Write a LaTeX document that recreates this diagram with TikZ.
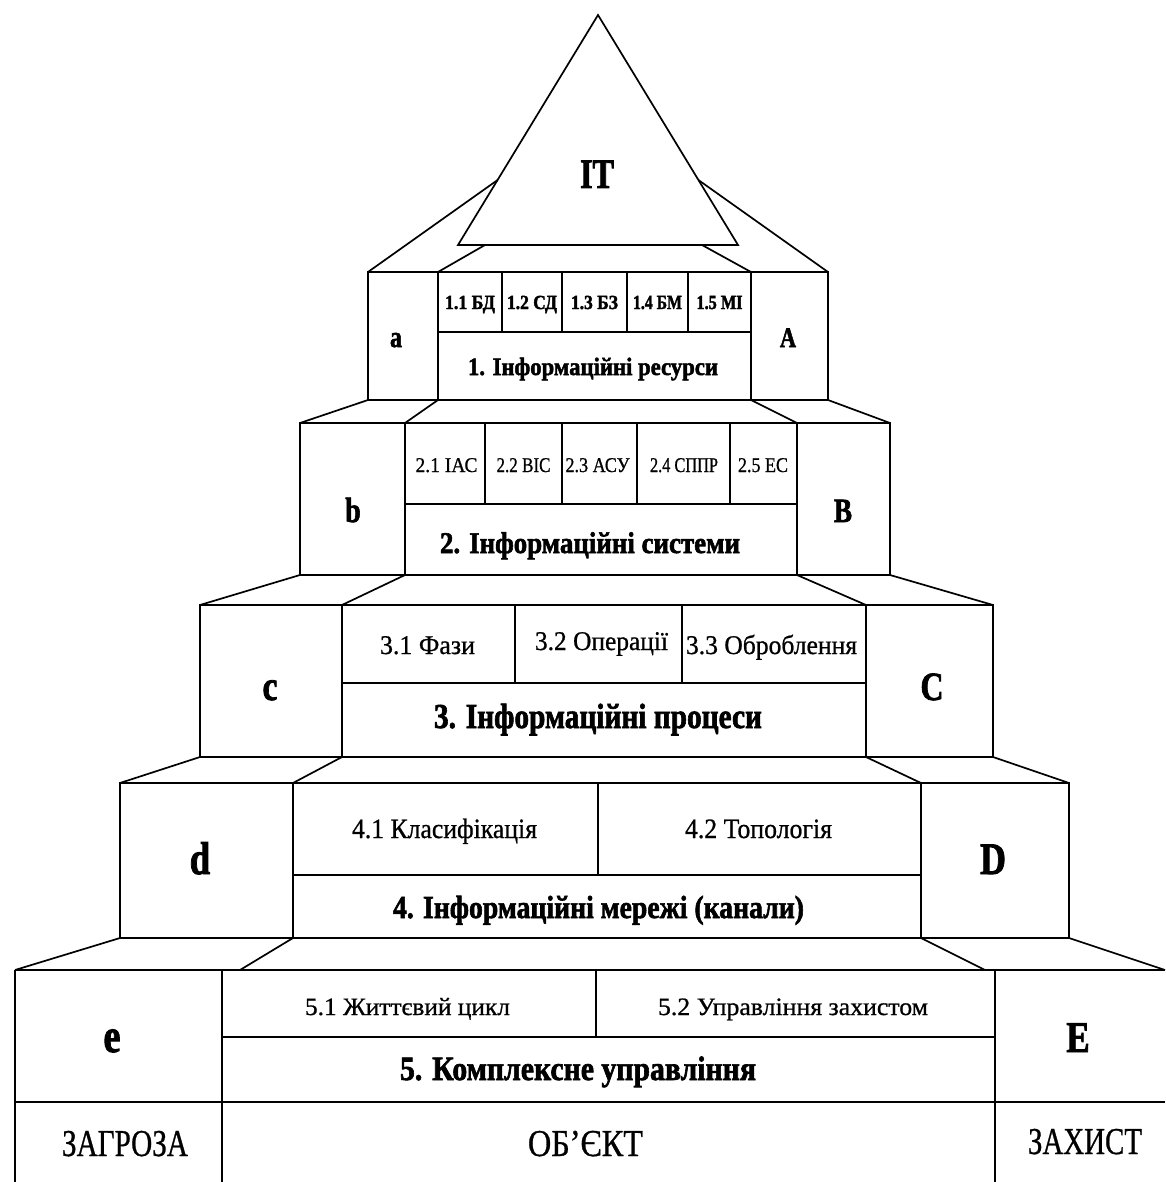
\documentclass[tikz,border=0pt]{standalone}
\usepackage{fontspec}
\setmainfont{Liberation Serif}[FakeBold=0.8, BoldFeatures={FakeBold=2}]
\usepackage{graphicx}
\newcommand\fw[2]{\resizebox{#1}{\height}{#2}}
\newcommand\cnd[1]{\scalebox{0.8}[1]{#1}}
\tikzset{
 ln/.style={line width=1.7pt},
 bln/.style={line width=2.8pt},
 txt/.style={anchor=base, inner sep=0pt, outer sep=0pt},
 fsz/.style={font=\fontsize{#1}{#1}\selectfont},
 bsz/.style={font=\fontsize{#1}{#1}\selectfont\bfseries},
}
\begin{document}
\begin{tikzpicture}[x=1pt,y=-1pt, line join=miter]
\useasboundingbox (0,0) rectangle (1165,1182);

% ---------- triangle ----------
\coordinate (apex) at (598,15);
\coordinate (tbl) at (458,245);
\coordinate (tbr) at (738,245);
\coordinate (tsl) at (497.6,180);
\coordinate (tsr) at (698.4,180);
\coordinate (til) at (485,245);
\coordinate (tir) at (702,245);
\draw[ln] (apex) -- (tbl) -- (tbr) -- cycle;
\draw[bln] (tbl) -- (tbr);
\node[txt, bsz=42] (it) at (597,188) {\fw{34pt}{IT}};

% ---------- level 1 ----------
\coordinate (ptl) at (368,272); \coordinate (pti) at (438,272);
\coordinate (ptj) at (751,272); \coordinate (ptr) at (828,272);
\coordinate (pbl) at (368,400); \coordinate (pbi) at (438,400);
\coordinate (pbj) at (751,400); \coordinate (pbr) at (828,400);
\draw[ln] (ptl) rectangle (pbr);
\draw[ln] (pti) -- (pbi) (ptj) -- (pbj);
\draw[bln] (438,272) rectangle (751,332);
\draw[bln] (502,272) -- (502,332) (627,272) -- (627,332);
\draw[ln] (562,272) -- (562,332) (688,272) -- (688,332);
\draw[ln] (tsl) -- (ptl) (tsr) -- (ptr) (til) -- (pti) (tir) -- (ptj);
\node[txt, bsz=20] (s11) at (470,309) {\fw{50pt}{1.1 БД}};
\node[txt, bsz=20] (s12) at (532,309) {\fw{50pt}{1.2 СД}};
\node[txt, bsz=20] (s13) at (594.5,309) {\fw{47pt}{1.3 БЗ}};
\node[txt, bsz=20] (s14) at (657.5,309) {\fw{49pt}{1.4 БМ}};
\node[txt, bsz=20] (s15) at (719.5,309) {\fw{46pt}{1.5 МІ}};
\node[txt, bsz=25] (t1) at (593,375) {\fw{250pt}{1. Інформаційні ресурси}};
\node[txt, bsz=30] (la) at (396,347) {\cnd{a}};
\node[txt, bsz=28] (lA) at (788,347) {\cnd{A}};

% ---------- level 2 ----------
\coordinate (qtl) at (300,423); \coordinate (qti) at (405,423);
\coordinate (qtj) at (797,423); \coordinate (qtr) at (890,423);
\coordinate (qbl) at (300,575); \coordinate (qbi) at (405,575);
\coordinate (qbj) at (797,575); \coordinate (qbr) at (890,575);
\draw[ln] (qtl) rectangle (qbr);
\draw[ln] (qti) -- (qbi) (qtj) -- (qbj);
\draw[bln] (405,423) rectangle (797,504);
\draw[ln] (485,423) -- (485,504) (562,423) -- (562,504) (730,423) -- (730,504);
\draw[bln] (637,423) -- (637,504);
\draw[ln] (pbl) -- (qtl) (pbi) -- (qti) (pbj) -- (qtj) (pbr) -- (qtr);
\node[txt, fsz=21] (s21) at (446.5,472) {\fw{62pt}{2.1 ІАС}};
\node[txt, fsz=21] (s22) at (523.5,472) {\fw{54pt}{2.2 ВІС}};
\node[txt, fsz=21] (s23) at (597.5,472) {\fw{64pt}{2.3 АСУ}};
\node[txt, fsz=21] (s24) at (684,472) {\fw{68pt}{2.4 СППР}};
\node[txt, fsz=21] (s25) at (763,472) {\fw{50pt}{2.5 ЕС}};
\node[txt, bsz=30] (t2) at (590,553) {\fw{300pt}{2. Інформаційні системи}};
\node[txt, bsz=35] (lb) at (353,522) {\cnd{b}};
\node[txt, bsz=34] (lB) at (843,522) {\cnd{B}};

% ---------- level 3 ----------
\coordinate (rtl) at (200,605); \coordinate (rti) at (342,605);
\coordinate (rtj) at (866,605); \coordinate (rtr) at (993,605);
\coordinate (rbl) at (200,757); \coordinate (rbi) at (342,757);
\coordinate (rbj) at (866,757); \coordinate (rbr) at (993,757);
\draw[ln] (rtl) rectangle (rbr);
\draw[ln] (rti) -- (rbi) (rtj) -- (rbj);
\draw[bln] (342,683) -- (866,683);
\draw[ln] (515,605) -- (515,683) (682,605) -- (682,683);
\draw[ln] (qbl) -- (rtl) (qbi) -- (rti) (qbj) -- (rtj) (qbr) -- (rtr);
\node[txt, fsz=27] (s31) at (427.5,654) {\fw{95pt}{3.1 Фази}};
\node[txt, fsz=27] (s32) at (601.5,650) {\fw{133pt}{3.2 Операції}};
\node[txt, fsz=27] (s33) at (771.5,654) {\fw{171pt}{3.3 Оброблення}};
\node[txt, bsz=35] (t3) at (598,728) {\fw{328pt}{3. Інформаційні процеси}};
\node[txt, bsz=42] (lc) at (270,700) {\cnd{c}};
\node[txt, bsz=40] (lC) at (932,700) {\cnd{C}};

% ---------- level 4 ----------
\coordinate (stl) at (120,783); \coordinate (sti) at (293,783);
\coordinate (stj) at (921,783); \coordinate (str) at (1069,783);
\coordinate (sbl) at (120,938); \coordinate (sbi) at (293,938);
\coordinate (sbj) at (921,938); \coordinate (sbr) at (1069,938);
\draw[ln] (stl) rectangle (sbr);
\draw[bln] (sti) -- (stj);
\draw[ln] (sti) -- (sbi) (stj) -- (sbj);
\draw[ln] (293,875) -- (921,875);
\draw[ln] (598,783) -- (598,875);
\draw[ln] (rbl) -- (stl) (rbi) -- (sti) (rbj) -- (stj) (rbr) -- (str);
\node[txt, fsz=28] (s41) at (444.5,838) {\fw{185pt}{4.1 Класифікація}};
\node[txt, fsz=28] (s42) at (758.5,838) {\fw{147pt}{4.2 Топологія}};
\node[txt, bsz=32] (t4) at (598.5,918) {\fw{411pt}{4. Інформаційні мережі (канали)}};
\node[txt, bsz=46] (ld) at (200,874) {\cnd{d}};
\node[txt, bsz=45] (lD) at (993,874) {\cnd{D}};

% ---------- level 5 ----------
\coordinate (utl) at (15,970); \coordinate (uti) at (240,970);
\coordinate (utj) at (985,970); \coordinate (utr) at (1165,970);
\draw[ln] (15,970) -- (1165,970);
\draw[ln] (15,970) -- (15,1182) (222,970) -- (222,1182) (995,970) -- (995,1182);
\draw[ln] (222,1037) -- (995,1037);
\draw[ln] (596,970) -- (596,1037);
\draw[ln] (15,1102) -- (1165,1102);
\draw[ln] (sbl) -- (utl) (sbi) -- (uti) (sbj) -- (utj) (sbr) -- (utr);
\node[txt, fsz=25] (s51) at (407.5,1015) {\fw{205pt}{5.1 Життєвий цикл}};
\node[txt, fsz=25] (s52) at (793,1015) {\fw{270pt}{5.2 Управління захистом}};
\node[txt, bsz=34] (t5) at (578,1080) {\fw{356pt}{5. Комплексне управління}};
\node[txt, bsz=48] (le) at (112,1052) {\cnd{e}};
\node[txt, bsz=44] (lE) at (1078,1052) {\cnd{E}};

% ---------- bottom row ----------
\node[txt, fsz=38] (b1) at (125,1156) {\fw{126pt}{ЗАГРОЗА}};
\node[txt, fsz=38] (b2) at (585.5,1156) {\fw{115pt}{ОБ’ЄКТ}};
\node[txt, fsz=38] (b3) at (1085,1154) {\fw{114pt}{ЗАХИСТ}};
\end{tikzpicture}
\end{document}
